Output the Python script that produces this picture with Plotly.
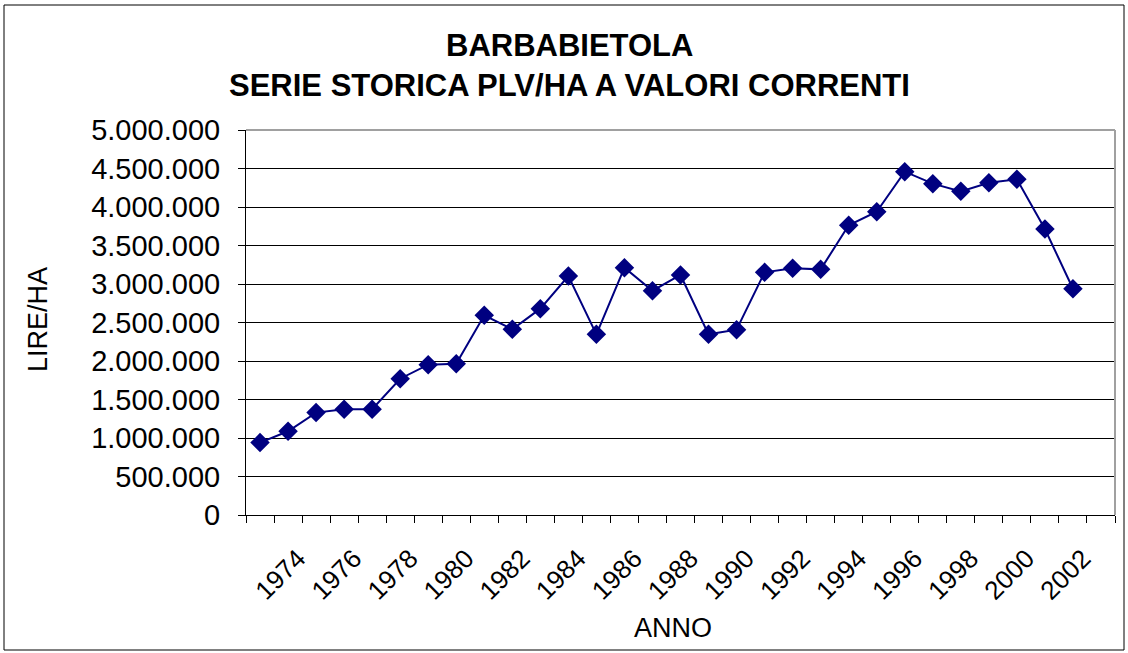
import plotly.graph_objects as go

years = list(range(1973, 2003))
plv_ha = [940000, 1087000, 1330000, 1373000, 1373000, 1770000, 1952000, 1965000,
          2593000, 2411000, 2680000, 3104000, 2346000, 3212000, 2913000, 3117000,
          2346000, 2407000, 3152000, 3203000, 3190000, 3762000, 3939000, 4459000,
          4303000, 4203000, 4316000, 4359000, 3714000, 2939000]
tick_years = list(range(1974, 2003, 2))
y_ticks = list(range(0, 5000001, 500000))

title_line1 = "BARBABIETOLA"
title_line2 = "SERIE STORICA PLV/HA A VALORI CORRENTI"
x_title = "ANNO"
y_title = "LIRE/HA"

L, R, T, B = 246, 13, 130, 138
W, H = 1128, 653
pw, ph = W - L - R, H - T - B

def px(x):
    return (x - L) / pw

def py(y):
    return (H - B - y) / ph

FONT = "Liberation Sans, Arial, sans-serif"

fig = go.Figure()
fig.add_trace(go.Scatter(
    x=years, y=plv_ha, mode="lines+markers",
    line=dict(color="#000080", width=2),
    marker=dict(symbol="diamond", size=15, color="#000080"),
    showlegend=False, hoverinfo="x+y",
))

fig.update_layout(
    width=W, height=H,
    margin=dict(l=L, r=R, t=T, b=B),
    paper_bgcolor="white", plot_bgcolor="white",
    separators=",.",
    font=dict(family=FONT, color="black"),
    xaxis=dict(
        range=[1972.5, 2003.5],
        tickmode="array", tickvals=tick_years, ticktext=[str(v) for v in tick_years],
        tickangle=-45, ticks="", ticklen=0,
        tickfont=dict(size=26, family=FONT),
        ticklabelshift=10, ticklabelstandoff=17,
        showgrid=False, zeroline=False,
        showline=True, linecolor="black", linewidth=1,
        minor=dict(tickmode="linear", tick0=1972.5, dtick=1, ticks="outside",
                   ticklen=7, tickcolor="black", tickwidth=1, showgrid=False),
        fixedrange=True,
    ),
    yaxis=dict(
        range=[0, 5000000],
        tickmode="array", tickvals=y_ticks,
        tickformat=",d",
        ticks="outside", ticklen=7, tickcolor="black", tickwidth=1,
        tickfont=dict(size=29, family=FONT),
        ticklabelstandoff=12,
        showgrid=True, gridcolor="#000000", gridwidth=1,
        zeroline=False,
        showline=True, linecolor="black", linewidth=1,
        fixedrange=True,
    ),
    shapes=[
        dict(type="rect", xref="paper", yref="paper", x0=px(4), x1=px(1124), y0=py(650), y1=py(5),
             line=dict(color="black", width=1), layer="below"),
        dict(type="line", xref="paper", yref="paper", x0=0, x1=1, y0=1, y1=1,
             line=dict(color="#a0a0a0", width=2)),
        dict(type="line", xref="paper", yref="paper", x0=1, x1=1, y0=0, y1=1,
             line=dict(color="#a0a0a0", width=2)),
    ],
    annotations=[
        dict(text="<b>" + title_line1 + "</b>", xref="paper", yref="paper",
             x=px(569), y=py(46), showarrow=False, font=dict(size=31, family=FONT),
             xanchor="center", yanchor="middle"),
        dict(text="<b>" + title_line2 + "</b>", xref="paper", yref="paper",
             x=px(569), y=py(86), showarrow=False, font=dict(size=31, family=FONT),
             xanchor="center", yanchor="middle"),
        dict(text=y_title, xref="paper", yref="paper", x=px(38), y=py(320), textangle=-90,
             showarrow=False, font=dict(size=27, family=FONT),
             xanchor="center", yanchor="middle"),
        dict(text=x_title, xref="paper", yref="paper", x=px(673), y=py(628),
             showarrow=False, font=dict(size=27, family=FONT),
             xanchor="center", yanchor="middle"),
    ],
)

fig.write_html("out.html", config={"displayModeBar": False},
               post_script="document.body.style.margin='0';")
